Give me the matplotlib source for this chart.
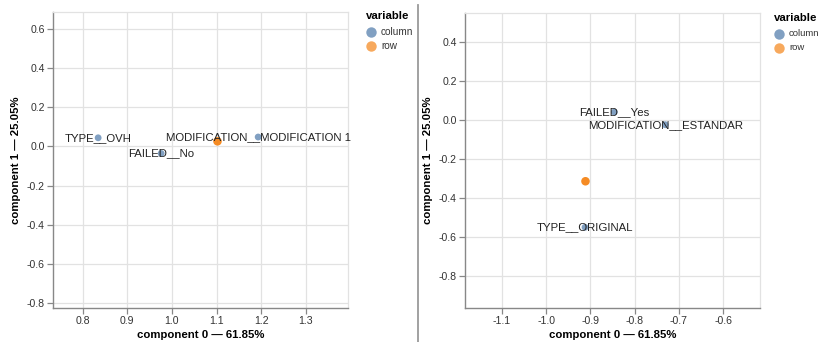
import matplotlib
matplotlib.use('Agg')
import matplotlib.pyplot as plt
from matplotlib.lines import Line2D
from matplotlib.ticker import FormatStrFormatter
import numpy as np

plt.rcParams['font.family'] = ['Liberation Sans', 'DejaVu Sans']

# left panel: coordinates of the categories
left_labels = ['TYPE__OVH', 'FAILED__No', 'MODIFICATION__MODIFICATION 1', '']
left_x = [0.835, 0.976, 1.193, 1.102]
left_y = [0.044, -0.036, 0.048, 0.026]
left_var = ['column', 'column', 'column', 'row']
left_xticks = [0.8, 0.9, 1.0, 1.1, 1.2, 1.3]
left_yticks = [-0.8, -0.6, -0.4, -0.2, 0.0, 0.2, 0.4, 0.6]

# right panel
right_labels = ['FAILED__Yes', 'MODIFICATION__ESTANDAR', 'TYPE__ORIGINAL', '']
right_x = [-0.846, -0.731, -0.912, -0.911]
right_y = [0.041, -0.024, -0.550, -0.314]
right_var = ['column', 'column', 'column', 'row']
right_xticks = [-1.1, -1.0, -0.9, -0.8, -0.7, -0.6]
right_yticks = [-0.8, -0.6, -0.4, -0.2, 0.0, 0.2, 0.4]

x_title = 'component 0 \u2014 61.85%'
y_title = 'component 1 \u2014 25.05%'

colors = {'column': '#4c78a8', 'row': '#f58518'}
W, H = 822, 342


def px_axes(fig, x0, y0, x1, y1):
    return fig.add_axes([x0 / W, 1 - y1 / H, (x1 - x0) / W, (y1 - y0) / H])


def draw_panel(ax, labels, xs, ys, var, xticks, yticks, xlim, ylim):
    ax.set_xlim(*xlim)
    ax.set_ylim(*ylim)
    ax.set_xticks(xticks)
    ax.set_yticks(yticks)
    ax.xaxis.set_major_formatter(FormatStrFormatter('%.1f'))
    ax.yaxis.set_major_formatter(FormatStrFormatter('%.1f'))
    ax.grid(True, color='#e2e2e2', lw=0.9)
    ax.set_axisbelow(True)
    for s in ['top', 'right']:
        ax.spines[s].set_color('#e2e2e2')
        ax.spines[s].set_linewidth(0.9)
    for s in ['left', 'bottom']:
        ax.spines[s].set_color('#888888')
        ax.spines[s].set_linewidth(1.0)
    ax.tick_params(length=4, width=0.9, color='#888888', labelsize=7.6,
                   labelcolor='#333333', pad=2)
    xs = np.array(xs)
    ys = np.array(ys)
    var = np.array(var)
    for v in ['column', 'row']:
        m = var == v
        ax.scatter(xs[m], ys[m], s=24 if v == 'column' else 38,
                   color=colors[v], alpha=0.7 if v == 'column' else 0.95,
                   edgecolors='none', zorder=3)
    for lab, x, y in zip(labels, xs, ys):
        if lab:
            ax.text(x, y, lab, ha='center', va='center', fontsize=8.2,
                    color='#222222', zorder=4)
    ax.set_xlabel(x_title, fontsize=8.2, fontweight='bold', labelpad=3)
    ax.set_ylabel(y_title, fontsize=8.2, fontweight='bold', labelpad=4)


def draw_legend(fig, x, y, size=7.2):
    fig.text(x / W, 1 - y / H, 'variable', fontsize=8.2, fontweight='bold',
             ha='left', va='center')
    for i, v in enumerate(['column', 'row']):
        cy = y + 16 + i * 14
        fig.add_artist(Line2D([(x + 5) / W], [1 - cy / H], marker='o',
                              markersize=7.5, color=colors[v], alpha=0.7,
                              markeredgewidth=0, linestyle='none'))
        fig.text((x + 15) / W, 1 - cy / H, v, fontsize=size, color='#333333',
                 ha='left', va='center')


fig = plt.figure(figsize=(W / 100, H / 100), dpi=100)

ax1 = px_axes(fig, 53, 12, 348, 308)
draw_panel(ax1, left_labels, left_x, left_y, left_var, left_xticks,
           left_yticks, (0.734, 1.394), (-0.826, 0.687))
draw_legend(fig, 366, 16)

ax2 = px_axes(fig, 465, 13, 760, 308)
draw_panel(ax2, right_labels, right_x, right_y, right_var, right_xticks,
           right_yticks, (-1.183, -0.517), (-0.964, 0.549))
draw_legend(fig, 774, 18, size=6.8)

# divider between the two panels
fig.add_artist(Line2D([418 / W, 418 / W], [0, 0.985], color='#9a9a9a', lw=1.3))

fig.savefig('out.png', dpi=100)
